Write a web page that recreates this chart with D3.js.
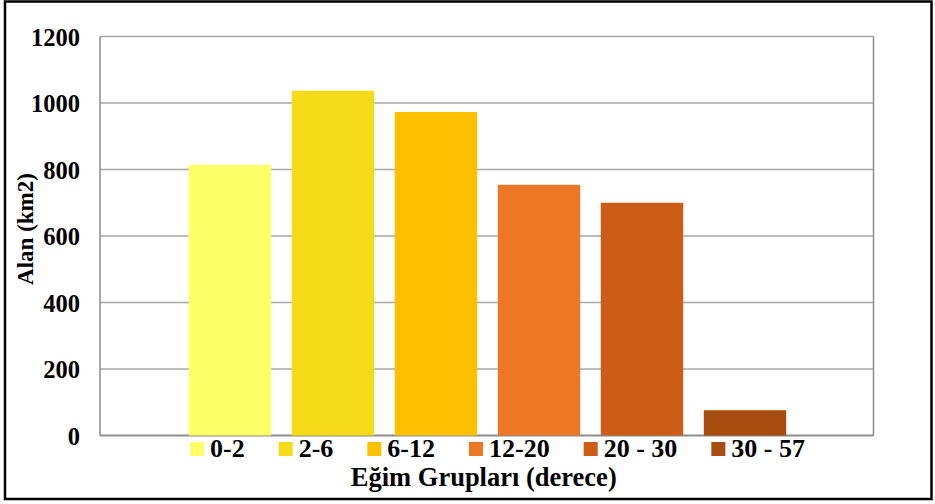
<!DOCTYPE html>
<html>
<head>
<meta charset="utf-8">
<script src="https://cdn.jsdelivr.net/npm/d3@7"></script>
<style>
  body { margin: 0; background: #fff; }
  text { font-family: "Liberation Serif", "Times New Roman", serif; font-weight: bold; fill: #000; }
</style>
</head>
<body>
<div id="chart"></div>
<script>
// data
var groups = ["0-2", "2-6", "6-12", "12-20", "20 - 30", "30 - 57"];
var areas = [814, 1037, 973, 754, 700, 76];
var colors = ["#FFFF66", "#F6DB18", "#FFC000", "#EC7725", "#CC5C16", "#A84C10"];
var yTicks = [0, 200, 400, 600, 800, 1000, 1200];

var svgWidth = 935, svgHeight = 504;
var margin = { top: 36.5, right: 61.5, bottom: 68.5, left: 100 },
    width = svgWidth - margin.left - margin.right,
    height = svgHeight - margin.top - margin.bottom;

var svg = d3.select("#chart").append("svg")
    .attr("width", svgWidth)
    .attr("height", svgHeight);

// outer frame
svg.append("rect")
    .attr("x", 5).attr("y", 1.5)
    .attr("width", 926.5).attr("height", 497.5)
    .attr("fill", "none")
    .attr("stroke", "#000")
    .attr("stroke-width", 2.5);

var g = svg.append("g")
    .attr("transform", "translate(" + margin.left + "," + margin.top + ")");

var y = d3.scaleLinear().domain([0, 1200]).range([height, 0]);
var x = d3.scaleBand()
    .domain(groups)
    .range([78.5, 696.5])
    .paddingInner(0.2)
    .paddingOuter(0.1);

// gridlines
g.selectAll(".grid")
    .data(yTicks)
    .enter().append("line")
    .attr("x1", 0).attr("x2", width)
    .attr("y1", function(d) { return y(d); })
    .attr("y2", function(d) { return y(d); })
    .attr("stroke", function(d) { return d == 0 ? "#8c8c8c" : "#a9a9a9"; })
    .attr("stroke-width", function(d) { return d == 0 ? 2 : 1.4; });

// plot frame sides
g.append("line").attr("x1", 0).attr("x2", 0).attr("y1", 0).attr("y2", height)
    .attr("stroke", "#8c8c8c").attr("stroke-width", 1.5);
g.append("line").attr("x1", width).attr("x2", width).attr("y1", 0).attr("y2", height)
    .attr("stroke", "#8c8c8c").attr("stroke-width", 1.5);

// bars
g.selectAll(".bar")
    .data(areas)
    .enter().append("rect")
    .attr("x", function(d, i) { return x(groups[i]); })
    .attr("width", x.bandwidth())
    .attr("y", function(d) { return y(d); })
    .attr("height", function(d) { return height - y(d); })
    .attr("fill", function(d, i) { return colors[i]; });

// y axis labels
var yAxis = g.append("g")
    .call(d3.axisLeft(y).tickValues(yTicks).tickSize(0).tickPadding(20).tickFormat(d3.format("d")));
yAxis.select(".domain").remove();
yAxis.selectAll("text")
    .attr("font-size", 24.5)
    .attr("font-family", "Liberation Serif")
    .attr("fill", "#000")
    .attr("dy", "0.35em");

// y title
svg.append("text")
    .attr("transform", "translate(33," + (margin.top + height / 2 - 7) + ") rotate(-90)")
    .attr("text-anchor", "middle")
    .attr("font-size", 23)
    .text("Alan (km2)");

// x title
svg.append("text")
    .attr("x", margin.left + width / 2 - 3)
    .attr("y", 486)
    .attr("text-anchor", "middle")
    .attr("font-size", 26.5)
    .text("Eğim Grupları (derece)");

// legend
var legend = svg.append("g");
var lx = 190;
groups.forEach(function(name, i) {
    legend.append("rect")
        .attr("x", lx).attr("y", 442)
        .attr("width", 14).attr("height", 14)
        .attr("fill", colors[i]);
    var t = legend.append("text")
        .attr("x", lx + 20).attr("y", 457)
        .attr("font-size", 26)
        .text(name);
    lx = lx + 20 + t.node().getComputedTextLength() + 34;
});
</script>
</body>
</html>
